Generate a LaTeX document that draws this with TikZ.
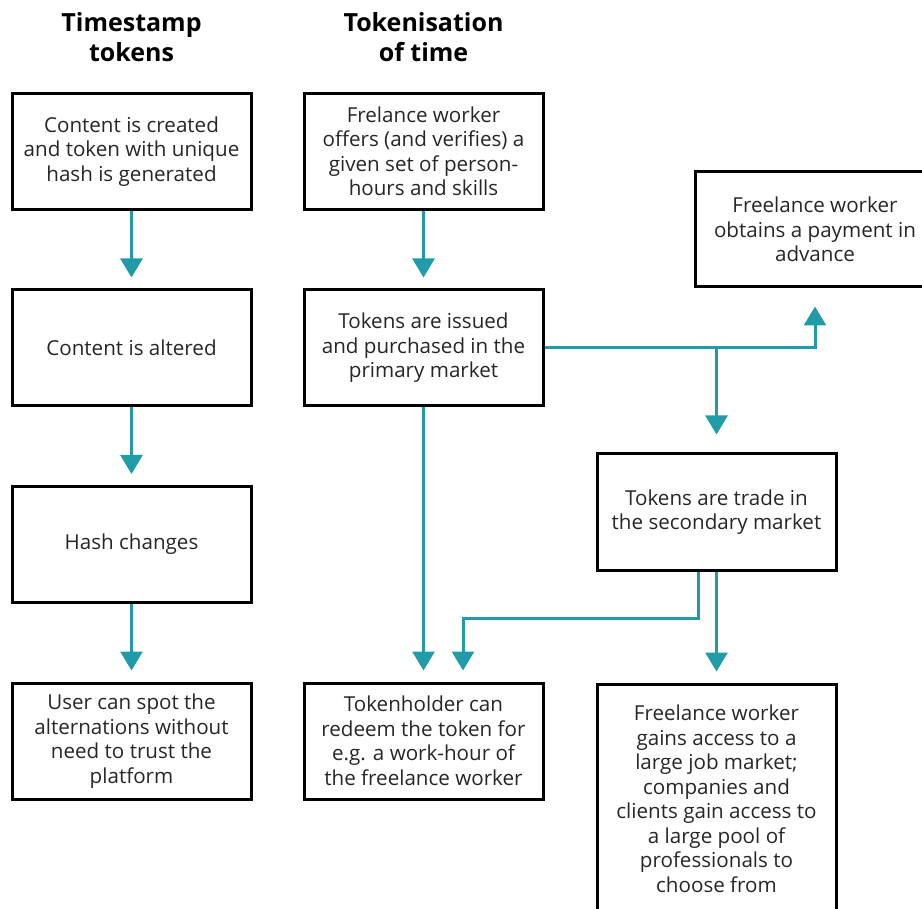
\documentclass[tikz,border=0pt]{standalone}
\usepackage{fontspec}
\setmainfont{Open Sans}
\usetikzlibrary{arrows.meta}
\definecolor{flow}{HTML}{229BA8}
\tikzset{
  box/.style={draw=black, line width=3pt, minimum width=239pt, minimum height=116pt,
    align=center, inner sep=0pt, font=\fontsize{20.6}{24.5}\selectfont, text=black!85},
  heading/.style={align=center, font=\fontsize{25}{30}\selectfont\bfseries},
  flowline/.style={draw=flow, line width=3pt, -{Triangle[width=22pt,length=19pt]}}
}
\begin{document}
\begin{tikzpicture}[x=1pt, y=-1pt]
\useasboundingbox (0,0) rectangle (922,909);
\clip (0,0) rectangle (922,909);

% column headings
\node[heading] (h1) at (131.5,37) {Timestamp\\tokens};
\node[heading] (h2) at (423.5,37) {Tokenisation\\of time};

% timestamp tokens column
\node[box] (l1) at (131.5,151.5) {Content is created\\and token with unique\\hash is generated};
\node[box] (l2) at (131.5,348) {Content is altered};
\node[box] (l3) at (131.5,544.5) {Hash changes};
\node[box] (l4) at (131.5,741) {User can spot the\\alternations without\\need to trust the\\platform};

% tokenisation of time column
\node[box] (m1) at (423.5,151.5) {Frelance worker\\offers (and verifies) a\\given set of person-\\hours and skills};
\node[box] (m2) at (423.5,348) {Tokens are issued\\and purchased in the\\primary market};
\node[box] (m4) at (423.5,741) {Tokenholder can\\redeem the token for\\e.g. a work-hour of\\the freelance worker};

\node[box, minimum width=240pt, minimum height=115pt] (r1) at (815,229.5) {Freelance worker\\obtains a payment in\\advance};
\node[box] (r2) at (716.5,512) {Tokens are trade in\\the secondary market};
\node[box, minimum height=230pt] (r3) at (716.5,799) {Freelance worker\\gains access to a\\large job market;\\companies and\\clients gain access to\\a large pool of\\professionals to\\choose from};

% connectors
\draw[flowline, shorten >=11pt] (l1) -- (l2);
\draw[flowline, shorten >=11pt] (l2) -- (l3);
\draw[flowline, shorten >=11pt] (l3) -- (l4);
\draw[flowline, shorten >=11pt] (m1) -- (m2);
\draw[flowline, shorten >=11pt] (m2) -- (m4);

\coordinate (split) at (r2.north |- m2.east);
\draw[flowline, shorten >=18pt] (m2.east) -| (r1.south);
\draw[flowline, shorten >=18pt] (split) -- (r2.north);

\coordinate (s1) at ([xshift=-18.5pt]r2.south);
\coordinate (bend) at (463,618);
\draw[flowline, shorten >=11pt] (s1) |- (bend) -- (bend |- m4.north);
\draw[flowline, shorten >=11pt] (r2.south) -- (r3.north);
\end{tikzpicture}
\end{document}
